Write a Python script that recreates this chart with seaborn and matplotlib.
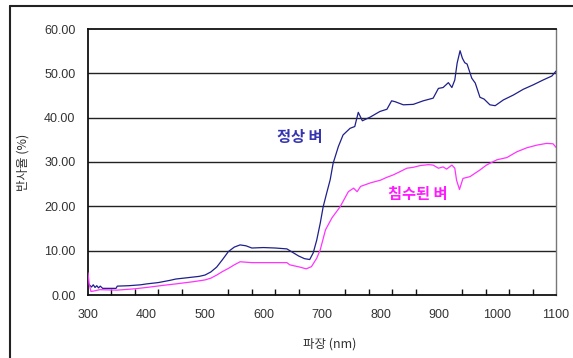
import matplotlib
matplotlib.use("Agg")
import matplotlib.pyplot as plt
from matplotlib.lines import Line2D
from matplotlib.ticker import FixedLocator, FuncFormatter
import numpy as np
import pandas as pd
import seaborn as sns

# Reflectance spectra of rice plants (wavelength in nm, reflectance in %)
normal_nm = [300, 303, 306, 309, 312, 315, 318, 321, 325, 330, 340, 348, 350, 370, 390,
             400, 420, 440, 450, 470, 490, 500, 510, 520, 530, 540, 550, 560, 570, 580,
             600, 620, 640, 650, 660, 670, 679, 685, 691, 697, 702, 708, 714, 719, 728,
             736, 748, 756, 762, 769, 782, 799, 811, 819, 825, 839, 856, 873, 890, 899,
             907, 916, 922, 927, 931, 936, 940, 944, 948, 956, 962, 970, 977, 987, 996,
             1010, 1027, 1044, 1061, 1078, 1093, 1100]
normal_refl = [2.6, 2.2, 1.8, 2.3, 1.7, 2.1, 1.6, 2.0, 1.5, 1.5, 1.5, 1.5, 2.0, 2.1, 2.3,
               2.5, 2.8, 3.3, 3.6, 3.9, 4.2, 4.5, 5.2, 6.3, 8.0, 9.8, 10.8, 11.3, 11.1, 10.6,
               10.7, 10.6, 10.4, 9.6, 8.8, 8.2, 8.0, 9.5, 12.4, 16.2, 19.9, 23.0, 26.0, 29.7, 33.5,
               36.1, 37.6, 38.0, 41.2, 39.3, 40.1, 41.4, 41.9, 43.8, 43.6, 42.9, 43.0, 43.8, 44.4, 46.6,
               46.8, 47.9, 46.8, 48.5, 52.3, 55.1, 53.4, 52.4, 52.1, 48.9, 47.8, 44.6, 44.2, 42.9, 42.7,
               44.0, 45.1, 46.4, 47.4, 48.5, 49.4, 50.5]

flooded_nm = [300, 302, 305, 310, 320, 350, 380, 400, 430, 450, 480, 500, 510, 520, 530,
              540, 550, 560, 570, 580, 640, 645, 662, 673, 682, 691, 697, 706, 717, 731,
              745, 754, 760, 766, 783, 800, 810, 822, 833, 845, 856, 868, 882, 890, 899,
              907, 913, 922, 927, 930, 935, 941, 953, 970, 981, 999, 1016, 1033, 1050, 1067,
              1084, 1095, 1100]
flooded_refl = [5.0, 2.5, 0.8, 0.9, 1.2, 1.1, 1.4, 1.7, 2.2, 2.5, 3.0, 3.4, 3.8, 4.5, 5.3,
                6.0, 6.8, 7.5, 7.4, 7.3, 7.3, 6.8, 6.3, 5.9, 6.4, 8.3, 10.2, 14.7, 17.4, 19.9,
                23.3, 24.1, 23.3, 24.5, 25.3, 25.9, 26.5, 27.1, 27.8, 28.6, 28.8, 29.2, 29.4, 29.3, 28.6,
                28.9, 28.4, 29.3, 28.6, 25.9, 23.8, 26.3, 26.7, 28.2, 29.3, 30.5, 31.0, 32.3, 33.2, 33.8,
                34.2, 34.1, 33.3]

series_names = ["정상 벼", "침수된 벼"]
x_tick_labels = [300, 400, 500, 600, 700, 800, 900, 1000, 1100]
y_tick_labels = [0, 10, 20, 30, 40, 50, 60]

line_colors = {"정상 벼": "#1f1f8c", "침수된 벼": "#ff33ff"}
text_colors = {"정상 벼": "#3535b0", "침수된 벼": "#ff1aff"}

df = pd.concat([
    pd.DataFrame({"wavelength": normal_nm, "reflectance": normal_refl, "series": series_names[0]}),
    pd.DataFrame({"wavelength": flooded_nm, "reflectance": flooded_refl, "series": series_names[1]}),
], ignore_index=True)

sns.set_style("white")
plt.rcParams["font.family"] = ["Liberation Sans", "Noto Sans CJK KR"]

fig = plt.figure(figsize=(5.73, 3.58), dpi=100)
ax = fig.add_axes([88 / 573, 1 - 295 / 358, 468 / 573, 266 / 358])

# Horizontal grid lines behind the spectra
for v in y_tick_labels[1:-1]:
    ax.axhline(v, color="#222222", lw=1.0, zorder=1)

sns.lineplot(data=df, x="wavelength", y="reflectance", hue="series",
             palette=line_colors, linewidth=0.9, legend=False, ax=ax,
             estimator=None, sort=False, zorder=3)

ax.set_xlim(300, 1100)
ax.set_ylim(0, 60)

ax.set_xticks(x_tick_labels)
ax.xaxis.set_minor_locator(FixedLocator(np.arange(340, 1101, 40)))
ax.tick_params(axis="x", which="major", length=0, pad=10, labelsize=9, colors="#333333")
ax.tick_params(axis="x", which="minor", direction="in", length=4, width=1, color="#111111", bottom=True)
ax.set_yticks(y_tick_labels)
ax.yaxis.set_major_formatter(FuncFormatter(lambda v, p: f"{v:.2f}"))
ax.tick_params(axis="y", length=0, pad=9, labelsize=9, colors="#333333")

for side in ["left", "bottom", "top"]:
    ax.spines[side].set_color("#111111")
    ax.spines[side].set_linewidth(1.3)
ax.spines["right"].set_color("#777777")
ax.spines["right"].set_linewidth(1.0)

ax.set_xlabel("파장 (nm)", fontsize=9, color="#333333",
              family=["Noto Sans CJK KR", "DejaVu Sans"])
ax.xaxis.set_label_coords(0.517, -0.16)
ax.set_ylabel("반사율 (%)", fontsize=9, color="#333333",
              family=["Noto Sans CJK KR", "DejaVu Sans"])
ax.yaxis.set_label_coords(-0.125, 0.5)

ax.text(662, 35.6, series_names[0], color=text_colors[series_names[0]], fontsize=11,
        fontweight="bold", ha="center", va="center", family=["Noto Sans CJK KR"])
ax.text(864, 22.8, series_names[1], color=text_colors[series_names[1]], fontsize=11,
        fontweight="bold", ha="center", va="center", family=["Noto Sans CJK KR"])

# Outer chart frame (top and left edges)
fx, fy = 10 / 573, 1 - 6 / 358
fig.add_artist(Line2D([fx, fx], [-0.1, fy], transform=fig.transFigure, color="#222222", lw=1.5))
fig.add_artist(Line2D([fx, 1.1], [fy, fy], transform=fig.transFigure, color="#222222", lw=1.5))

fig.savefig("out.png", dpi=100)
